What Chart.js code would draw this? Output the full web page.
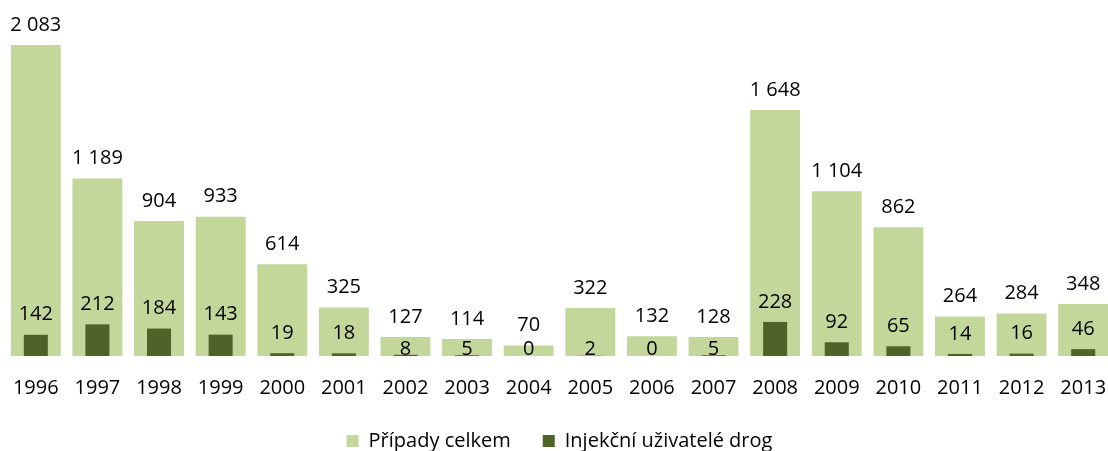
<!DOCTYPE html>
<html lang="cs">
<head>
<meta charset="utf-8">
<title>Případy celkem a injekční uživatelé drog</title>
<script src="https://cdn.jsdelivr.net/npm/chart.js@4.4.1/dist/chart.umd.min.js"></script>
<style>
  html, body { margin: 0; padding: 0; background: #fff; overflow: hidden; }
  #wrap { position: relative; width: 1120px; height: 451px; }
</style>
</head>
<body>
<div id="wrap"><canvas id="chart"></canvas></div>
<script>
const years = ['1996', '1997', '1998', '1999', '2000', '2001', '2002', '2003', '2004',
  '2005', '2006', '2007', '2008', '2009', '2010', '2011', '2012', '2013'];
const totalCases = [2083, 1189, 904, 933, 614, 325, 127, 114, 70, 322, 132, 128, 1648, 1104, 862, 264, 284, 348];
const drugUsers = [142, 212, 184, 143, 19, 18, 8, 5, 0, 2, 0, 5, 228, 92, 65, 14, 16, 46];
const seriesNames = ['Případy celkem', 'Injekční uživatelé drog'];
const yMax = 2384;

const FONT = '"Open Sans", "Noto Sans", sans-serif';

function formatNumber(v) {
  return String(v).replace(/\B(?=(\d{3})+(?!\d))/g, ' ');
}

// value labels above the bars (small dark values sit on the baseline)
const valueLabels = {
  id: 'valueLabels',
  afterDatasetsDraw(chart) {
    const { ctx } = chart;
    ctx.save();
    ctx.font = `20px ${FONT}`;
    ctx.fillStyle = '#000';
    ctx.textAlign = 'center';
    ctx.textBaseline = 'middle';
    chart.data.datasets.forEach((ds, di) => {
      chart.getDatasetMeta(di).data.forEach((bar, i) => {
        const v = ds.data[i];
        let y = bar.y - 20;
        if (di === 1 && v < 10) y = bar.base - 7;
        ctx.fillText(formatNumber(v), bar.x, y);
      });
    });
    ctx.restore();
  },
};

// keep the legend row low, under the year labels
const legendHeight = {
  id: 'legendHeight',
  beforeInit(chart) {
    const fit = chart.legend.fit;
    chart.legend.fit = function () {
      fit.call(this);
      this.height = 52;
    };
  },
};

new Chart(document.getElementById('chart'), {
  type: 'bar',
  data: {
    labels: years,
    datasets: [
      {
        label: seriesNames[0],
        data: totalCases,
        backgroundColor: '#C4D79B',
        barPercentage: 0.81,
        categoryPercentage: 1,
        grouped: false,
        order: 2,
      },
      {
        label: seriesNames[1],
        data: drugUsers,
        backgroundColor: '#4F6228',
        barPercentage: 0.39,
        categoryPercentage: 1,
        grouped: false,
        order: 1,
      },
    ],
  },
  options: {
    responsive: true,
    maintainAspectRatio: false,
    animation: false,
    layout: { padding: { left: 5, right: 6, top: 0, bottom: 0 } },
    scales: {
      x: {
        grid: { display: false, drawTicks: false },
        border: { display: false },
        ticks: { color: '#000', padding: 20, font: { family: FONT, size: 20 } },
        afterFit(scale) {
          scale.height = 43;
          scale.paddingLeft = 0;
          scale.paddingRight = 0;
        },
      },
      y: { display: false, min: 0, max: yMax },
    },
    plugins: {
      tooltip: { enabled: false },
      legend: {
        position: 'bottom',
        labels: {
          color: '#000',
          boxWidth: 12,
          boxHeight: 12,
          padding: 32,
          font: { family: FONT, size: 20 },
          sort: (a, b) => a.datasetIndex - b.datasetIndex,
        },
      },
    },
  },
  plugins: [valueLabels, legendHeight],
});
</script>
</body>
</html>
